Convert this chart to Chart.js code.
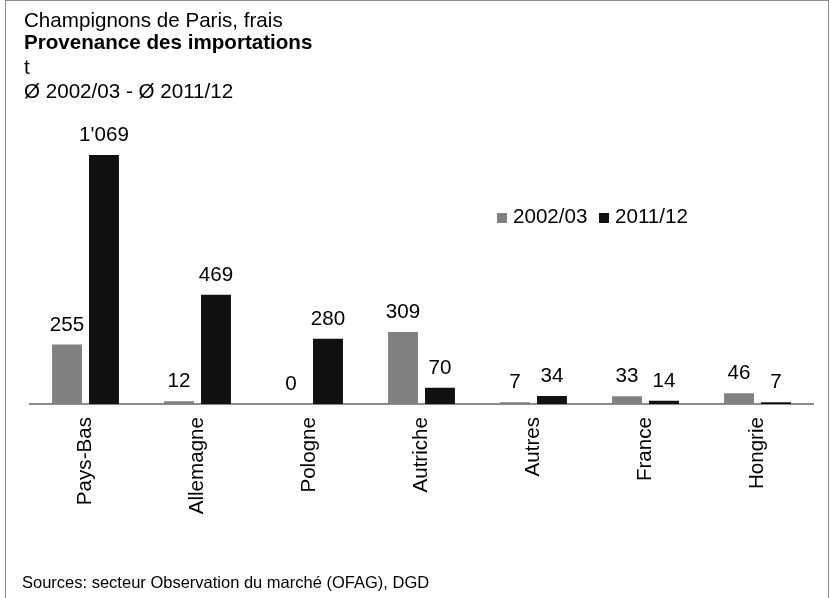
<!DOCTYPE html>
<html>
<head>
<meta charset="utf-8">
<script src="https://cdn.jsdelivr.net/npm/chart.js@4.4.1/dist/chart.umd.min.js"></script>
<style>
  body { margin: 0; background: #fff; }
  canvas { display: block; }
</style>
</head>
<body>
<canvas id="chart" width="831" height="598"></canvas>
<script>
// data
var categories = ['Pays-Bas', 'Allemagne', 'Pologne', 'Autriche', 'Autres', 'France', 'Hongrie'];
var seriesNames = ['2002/03', '2011/12'];
var values0203 = [255, 12, 0, 309, 7, 33, 46];
var values1112 = [1069, 469, 280, 70, 34, 14, 7];
var titleLines = ['Champignons de Paris, frais', 'Provenance des importations', 't', 'Ø 2002/03 - Ø 2011/12'];
var sourceText = 'Sources: secteur Observation du marché (OFAG), DGD';

var FONT = '"Liberation Sans", Arial, sans-serif';
var SIZE = 20.6;

function fmt(v) {
  return String(v).replace(/\B(?=(\d{3})+(?!\d))/g, "'");
}

// frame, titles, legend and value labels
var decoPlugin = {
  id: 'deco',
  afterDraw: function(chart) {
    var ctx = chart.ctx;
    ctx.save();
    ctx.strokeStyle = '#8c8c8c';
    ctx.lineWidth = 1;
    ctx.strokeRect(5.5, 0.5, 823, 620);

    ctx.fillStyle = '#000';
    ctx.textAlign = 'left';
    ctx.textBaseline = 'alphabetic';
    var ys = [27, 49, 74, 98];
    titleLines.forEach(function(t, i) {
      ctx.font = (i == 1 ? 'bold ' : '') + SIZE + 'px ' + FONT;
      ctx.fillText(t, 24, ys[i]);
    });

    ctx.font = '16.5px ' + FONT;
    ctx.fillText(sourceText, 22, 588);

    // legend
    var lx = [497, 599];
    ctx.font = SIZE + 'px ' + FONT;
    chart.data.datasets.forEach(function(ds, i) {
      ctx.fillStyle = ds.backgroundColor;
      ctx.fillRect(lx[i], 213, 10, 10);
      ctx.fillStyle = '#000';
      ctx.fillText(ds.label, lx[i] + 16, 223);
    });

    // value labels
    ctx.textAlign = 'center';
    chart.data.datasets.forEach(function(ds, i) {
      var meta = chart.getDatasetMeta(i);
      meta.data.forEach(function(bar, j) {
        ctx.fillText(fmt(ds.data[j]), bar.x, bar.y - 14);
      });
    });
    ctx.restore();
  }
};

new Chart(document.getElementById('chart'), {
  type: 'bar',
  data: {
    labels: categories,
    datasets: [
      { label: seriesNames[0], data: values0203, backgroundColor: '#808080' },
      { label: seriesNames[1], data: values1112, backgroundColor: '#111111' }
    ]
  },
  options: {
    responsive: false,
    animation: false,
    categoryPercentage: 0.66,
    barPercentage: 0.81,
    layout: { padding: { left: 29.5, right: 17.5, top: 124.5, bottom: 0 } },
    plugins: {
      legend: { display: false },
      tooltip: { enabled: false }
    },
    scales: {
      x: {
        grid: { display: false, drawTicks: false },
        border: { display: true, color: '#8c8c8c', width: 2 },
        ticks: {
          color: '#000',
          font: { size: SIZE, family: FONT },
          minRotation: 90,
          maxRotation: 90,
          padding: 13
        },
        afterFit: function(scale) { scale.height = 598 - 404; }
      },
      y: {
        display: false,
        min: 0,
        max: 1200
      }
    }
  },
  plugins: [decoPlugin]
});
</script>
</body>
</html>
